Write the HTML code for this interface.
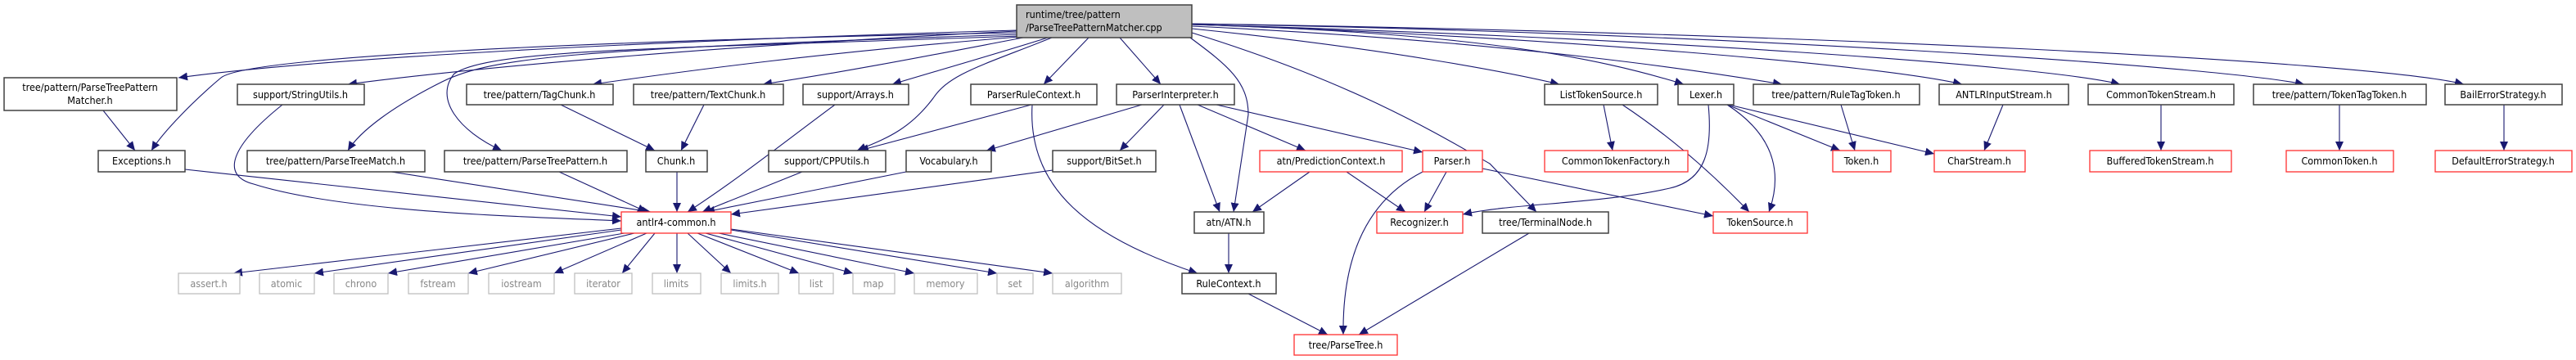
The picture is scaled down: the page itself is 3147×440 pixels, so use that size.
<!DOCTYPE html>
<html><head><meta charset="utf-8"><style>
html,body{margin:0;padding:0;background:#fff;}
svg{display:block;}
text{font-family:"DejaVu Sans Condensed","DejaVu Sans","Liberation Sans",sans-serif;font-size:12.5px;fill:#000;}
.b{fill:#fff;stroke:#404040;stroke-width:1.5;}
.r{fill:#fff;stroke:#ff3030;stroke-width:1.3;}
.g{fill:#fff;stroke:#bfbfbf;stroke-width:1.3;}
.gt{fill:#888;}
path.e{fill:none;stroke:#191970;stroke-width:1.1;marker-end:url(#a);}
</style></head><body>
<svg width="3147" height="440" viewBox="0 0 3147 440" xmlns="http://www.w3.org/2000/svg">
<defs><marker id="a" markerUnits="userSpaceOnUse" markerWidth="12" markerHeight="10" refX="11" refY="5" orient="auto"><path d="M0,0 L11,5 L0,10 z" fill="#191970"/></marker></defs>

<!-- edges -->
<path class="e" d="M1242,37 C800,50 400,70 218,95"/>
<path class="e" d="M1242,40 C700,50 300,70 270,95 C240,120 200,160 185,184"/>
<path class="e" d="M1242,38 C900,55 600,80 425,103"/>
<path class="e" d="M1245,42 C700,60 600,70 540,100 C480,130 440,160 425,184"/>
<path class="e" d="M1245,44 C800,60 600,60 555,90 C530,120 560,160 613,184"/>
<path class="e" d="M1245,45 C1000,65 850,85 724,103"/>
<path class="e" d="M1250,46 C1150,65 1050,85 932,103"/>
<path class="e" d="M1280,46 C1220,65 1150,85 1090,103"/>
<path class="e" d="M1285,46 C1200,80 1160,90 1140,120 C1110,160 1080,170 1047,184"/>
<path class="e" d="M1330,46 L1275,103"/>
<path class="e" d="M1368,46 L1418,103"/>
<path class="e" d="M1454,46 C1500,80 1525,100 1525,140 L1507,259"/>
<path class="e" d="M1456,40 C1650,100 1750,160 1820,200 L1877,259"/>
<path class="e" d="M1456,35 C1700,60 1850,90 1905,103"/>
<path class="e" d="M1456,30 C1800,40 1950,70 2057,103"/>
<path class="e" d="M1456,32 C1850,50 2100,90 2177,103"/>
<path class="e" d="M1456,30 C1900,45 2300,80 2397,103"/>
<path class="e" d="M1456,30 C2000,45 2500,80 2590,103"/>
<path class="e" d="M1456,29 C2100,40 2700,80 2815,103"/>
<path class="e" d="M1456,29 C2200,40 2900,75 3010,103"/>

<path class="e" d="M126,135 L165,184"/>
<path class="e" d="M226,207 L759,265"/>
<path class="e" d="M345,128 C280,180 270,215 310,225 C420,260 650,265 759,270"/>
<path class="e" d="M478,210 L795,259"/>
<path class="e" d="M683,210 L790,259"/>
<path class="e" d="M685,128 L800,184"/>
<path class="e" d="M860,128 L832,184"/>
<path class="e" d="M827,210 L827,259"/>
<path class="e" d="M1020,128 C950,180 900,220 840,259"/>
<path class="e" d="M980,210 L858,259"/>
<path class="e" d="M1107,210 L862,259"/>
<path class="e" d="M1286,208 L893,262"/>
<path class="e" d="M1260,128 L1050,184"/>
<path class="e" d="M1261,128 C1255,230 1330,290 1463,334"/>
<path class="e" d="M1395,128 L1205,184"/>
<path class="e" d="M1422,128 L1368,184"/>
<path class="e" d="M1441,128 L1490,259"/>
<path class="e" d="M1463,128 L1595,184"/>
<path class="e" d="M1486,128 L1738,186"/>
<path class="e" d="M1600,210 L1530,259"/>
<path class="e" d="M1645,210 L1717,259"/>
<path class="e" d="M1738,210 C1660,250 1640,330 1641,409"/>
<path class="e" d="M1767,210 L1740,259"/>
<path class="e" d="M1811,206 L2093,264"/>
<path class="e" d="M1501,285 L1501,334"/>
<path class="e" d="M1525,359 L1622,409"/>
<path class="e" d="M1868,285 L1660,409"/>
<path class="e" d="M1959,128 L1970,184"/>
<path class="e" d="M1982,128 C2030,160 2080,200 2137,259"/>
<path class="e" d="M2087,128 C2092,180 2085,220 2040,230 C1950,250 1850,248 1787,262"/>
<path class="e" d="M2110,128 C2175,170 2175,220 2161,259"/>
<path class="e" d="M2110,128 L2248,184"/>
<path class="e" d="M2112,128 L2363,188"/>
<path class="e" d="M2249,128 L2266,184"/>
<path class="e" d="M2447,128 L2424,184"/>
<path class="e" d="M2640,128 L2640,184"/>
<path class="e" d="M2858,128 L2858,184"/>
<path class="e" d="M3059,128 L3059,184"/>

<path class="e" d="M759,279 L285,334"/>
<path class="e" d="M759,281 L384,334"/>
<path class="e" d="M763,285 L474,334"/>
<path class="e" d="M775,285 L572,334"/>
<path class="e" d="M790,285 L677,334"/>
<path class="e" d="M800,285 L760,334"/>
<path class="e" d="M827,285 L827,334"/>
<path class="e" d="M840,285 L893,334"/>
<path class="e" d="M852,285 L976,334"/>
<path class="e" d="M862,285 L1042,334"/>
<path class="e" d="M878,285 L1117,334"/>
<path class="e" d="M893,281 L1218,334"/>
<path class="e" d="M893,280 L1286,334"/>

<!-- root -->
<rect x="1242" y="6" width="214" height="40" fill="#bfbfbf" stroke="#404040" stroke-width="1.5"/>
<text x="1253" y="22">runtime/tree/pattern</text>
<text x="1253" y="38">/ParseTreePatternMatcher.cpp</text>

<!-- row 2 -->
<rect class="b" x="5" y="95" width="211" height="40"/>
<text x="110" y="111" text-anchor="middle">tree/pattern/ParseTreePattern</text>
<text x="110" y="127" text-anchor="middle">Matcher.h</text>
<rect class="b" x="290" y="103" width="155" height="25"/><text x="367" y="120" text-anchor="middle">support/StringUtils.h</text>
<rect class="b" x="570" y="103" width="179" height="25"/><text x="659" y="120" text-anchor="middle">tree/pattern/TagChunk.h</text>
<rect class="b" x="774" y="103" width="183" height="25"/><text x="865" y="120" text-anchor="middle">tree/pattern/TextChunk.h</text>
<rect class="b" x="981" y="103" width="129" height="25"/><text x="1045" y="120" text-anchor="middle">support/Arrays.h</text>
<rect class="b" x="1186" y="103" width="154" height="25"/><text x="1263" y="120" text-anchor="middle">ParserRuleContext.h</text>
<rect class="b" x="1364" y="103" width="144" height="25"/><text x="1436" y="120" text-anchor="middle">ParserInterpreter.h</text>
<rect class="b" x="1887" y="103" width="138" height="25"/><text x="1956" y="120" text-anchor="middle">ListTokenSource.h</text>
<rect class="b" x="2050" y="103" width="68" height="25"/><text x="2084" y="120" text-anchor="middle">Lexer.h</text>
<rect class="b" x="2142" y="103" width="203" height="25"/><text x="2243" y="120" text-anchor="middle">tree/pattern/RuleTagToken.h</text>
<rect class="b" x="2369" y="103" width="158" height="25"/><text x="2448" y="120" text-anchor="middle">ANTLRInputStream.h</text>
<rect class="b" x="2551" y="103" width="178" height="25"/><text x="2640" y="120" text-anchor="middle">CommonTokenStream.h</text>
<rect class="b" x="2753" y="103" width="211" height="25"/><text x="2858" y="120" text-anchor="middle">tree/pattern/TokenTagToken.h</text>
<rect class="b" x="2987" y="103" width="143" height="25"/><text x="3058" y="120" text-anchor="middle">BailErrorStrategy.h</text>

<!-- row 3 -->
<rect class="b" x="120" y="184" width="106" height="26"/><text x="173" y="201" text-anchor="middle">Exceptions.h</text>
<rect class="b" x="302" y="184" width="217" height="26"/><text x="410" y="201" text-anchor="middle">tree/pattern/ParseTreeMatch.h</text>
<rect class="b" x="543" y="184" width="223" height="26"/><text x="654" y="201" text-anchor="middle">tree/pattern/ParseTreePattern.h</text>
<rect class="b" x="789" y="184" width="75" height="26"/><text x="826" y="201" text-anchor="middle">Chunk.h</text>
<rect class="b" x="939" y="184" width="143" height="26"/><text x="1010" y="201" text-anchor="middle">support/CPPUtils.h</text>
<rect class="b" x="1107" y="184" width="104" height="26"/><text x="1159" y="201" text-anchor="middle">Vocabulary.h</text>
<rect class="b" x="1286" y="184" width="126" height="26"/><text x="1349" y="201" text-anchor="middle">support/BitSet.h</text>
<rect class="r" x="1539" y="184" width="174" height="26"/><text x="1626" y="201" text-anchor="middle">atn/PredictionContext.h</text>
<rect class="r" x="1738" y="184" width="73" height="26"/><text x="1774" y="201" text-anchor="middle">Parser.h</text>
<rect class="r" x="1887" y="184" width="175" height="26"/><text x="1974" y="201" text-anchor="middle">CommonTokenFactory.h</text>
<rect class="r" x="2239" y="184" width="71" height="26"/><text x="2274" y="201" text-anchor="middle">Token.h</text>
<rect class="r" x="2363" y="184" width="111" height="26"/><text x="2418" y="201" text-anchor="middle">CharStream.h</text>
<rect class="r" x="2553" y="184" width="173" height="26"/><text x="2639" y="201" text-anchor="middle">BufferedTokenStream.h</text>
<rect class="r" x="2793" y="184" width="131" height="26"/><text x="2858" y="201" text-anchor="middle">CommonToken.h</text>
<rect class="r" x="2975" y="184" width="167" height="26"/><text x="3058" y="201" text-anchor="middle">DefaultErrorStrategy.h</text>

<!-- row 4 -->
<rect class="r" x="759" y="259" width="134" height="26"/><text x="826" y="276" text-anchor="middle">antlr4-common.h</text>
<rect class="b" x="1459" y="259" width="85" height="26"/><text x="1501" y="276" text-anchor="middle">atn/ATN.h</text>
<rect class="r" x="1682" y="259" width="105" height="26"/><text x="1734" y="276" text-anchor="middle">Recognizer.h</text>
<rect class="b" x="1811" y="259" width="154" height="26"/><text x="1888" y="276" text-anchor="middle">tree/TerminalNode.h</text>
<rect class="r" x="2093" y="259" width="115" height="26"/><text x="2150" y="276" text-anchor="middle">TokenSource.h</text>

<!-- row 5 -->
<rect class="g" x="218" y="334" width="75" height="25"/><text class="gt" x="255" y="351" text-anchor="middle">assert.h</text>
<rect class="g" x="317" y="334" width="67" height="25"/><text class="gt" x="350" y="351" text-anchor="middle">atomic</text>
<rect class="g" x="408" y="334" width="66" height="25"/><text class="gt" x="441" y="351" text-anchor="middle">chrono</text>
<rect class="g" x="499" y="334" width="73" height="25"/><text class="gt" x="535" y="351" text-anchor="middle">fstream</text>
<rect class="g" x="597" y="334" width="80" height="25"/><text class="gt" x="637" y="351" text-anchor="middle">iostream</text>
<rect class="g" x="702" y="334" width="70" height="25"/><text class="gt" x="737" y="351" text-anchor="middle">iterator</text>
<rect class="g" x="797" y="334" width="59" height="25"/><text class="gt" x="826" y="351" text-anchor="middle">limits</text>
<rect class="g" x="881" y="334" width="70" height="25"/><text class="gt" x="916" y="351" text-anchor="middle">limits.h</text>
<rect class="g" x="976" y="334" width="42" height="25"/><text class="gt" x="997" y="351" text-anchor="middle">list</text>
<rect class="g" x="1042" y="334" width="51" height="25"/><text class="gt" x="1067" y="351" text-anchor="middle">map</text>
<rect class="g" x="1117" y="334" width="77" height="25"/><text class="gt" x="1155" y="351" text-anchor="middle">memory</text>
<rect class="g" x="1218" y="334" width="44" height="25"/><text class="gt" x="1240" y="351" text-anchor="middle">set</text>
<rect class="g" x="1286" y="334" width="84" height="25"/><text class="gt" x="1328" y="351" text-anchor="middle">algorithm</text>
<rect class="b" x="1444" y="334" width="115" height="25"/><text x="1501" y="351" text-anchor="middle">RuleContext.h</text>

<!-- row 6 -->
<rect class="r" x="1581" y="409" width="126" height="25"/><text x="1644" y="426" text-anchor="middle">tree/ParseTree.h</text>
</svg>
</body></html>
